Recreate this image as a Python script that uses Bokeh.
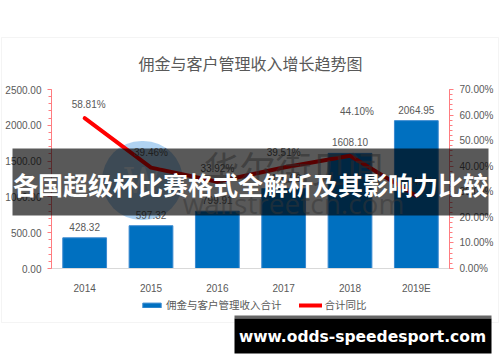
from bokeh.plotting import figure
from bokeh.models import (Range1d, FactorRange, LinearAxis, FixedTicker, NumeralTickFormatter,
                          ColumnDataSource, LabelSet, Label, BoxAnnotation, Legend, LegendItem)
from bokeh.core.properties import value
from bokeh.embed import file_html
from bokeh.resources import INLINE

# ---------------- data ----------------
years = ["2014", "2015", "2016", "2017", "2018", "2019E"]
revenue = [428.32, 597.32, 799.91, 1115.96, 1608.10, 2064.95]
yoy = [0.5881, 0.3946, 0.3392, 0.3951, 0.4410, 0.2841]
left_ticks = [0, 500, 1000, 1500, 2000, 2500]
right_ticks = [0.0, 0.1, 0.2, 0.3, 0.4, 0.5, 0.6, 0.7]
title_text = "佣金与客户管理收入增长趋势图"
bar_name = "佣金与客户管理收入合计"
line_name = "合计同比"
banner_text = "各国超级杯比赛格式全解析及其影响力比较"
site_text = "www.odds-speedesport.com"

# ---------------- layout / styles ----------------
W, H = 500, 362
PL, PR, PT, PB = 53, 451, 89, 268          # plot area in page pixels
GRAY = "#595959"
NUM = "Liberation Sans"
CJK = "Noto Sans CJK SC"
AXIS_RED = "#ff7c80"
lbl_dx = [4, 0, 0, 0, 7, 0]
lbl_dy = [14, 15, 13, 15, 44, 14]

n = len(years)
cat_px = (PR - PL) / n
pad = (W / cat_px - n) / 2
L_MAX = left_ticks[-1]
R_MAX = right_ticks[-1]
upp_l = L_MAX / (PB - PT)
upp_r = R_MAX / (PB - PT)

src = ColumnDataSource(dict(
    year=years, revenue=revenue, yoy=yoy,
    rev_txt=["%.2f" % v for v in revenue],
    yoy_txt=["%.2f%%" % (v * 100) for v in yoy],
    lx=lbl_dx, ly=lbl_dy,
))

p = figure(x_range=FactorRange(factors=years, range_padding=pad, range_padding_units="absolute"),
           y_range=Range1d(-(H - PB) * upp_l, L_MAX + PT * upp_l),
           width=W, height=H, output_backend="svg", toolbar_location=None,
           min_border=0, min_border_left=0, min_border_right=0,
           min_border_top=0, min_border_bottom=0)
p.title.visible = False
p.background_fill_color = "white"
p.border_fill_color = "white"
p.outline_line_color = None
p.xgrid.visible = False
p.ygrid.visible = False

p.extra_y_ranges = {"pct": Range1d(-(H - PB) * upp_r, R_MAX + PT * upp_r)}

lax = p.yaxis[0]
lax.ticker = FixedTicker(ticks=left_ticks, minor_ticks=list(range(0, L_MAX + 1, 100)))
lax.formatter = NumeralTickFormatter(format="0.00")
lax.fixed_location = 0
lax.bounds = (0, L_MAX)

rax = LinearAxis(y_range_name="pct",
                 ticker=FixedTicker(ticks=right_ticks, minor_ticks=[i / 50 for i in range(36)]),
                 formatter=NumeralTickFormatter(format="0.00%"),
                 fixed_location=n, bounds=(0, R_MAX))
p.add_layout(rax, "right")

for ax in (lax, rax):
    ax.axis_line_color = AXIS_RED
    ax.major_tick_line_color = AXIS_RED
    ax.minor_tick_line_color = AXIS_RED
    ax.major_tick_in = 0
    ax.major_tick_out = 4
    ax.minor_tick_in = 0
    ax.minor_tick_out = 3
    ax.major_label_text_font = NUM
    ax.major_label_text_font_size = "10px"
    ax.major_label_text_color = GRAY
lax.major_label_standoff = 6
rax.major_label_standoff = 6

xax = p.xaxis[0]
xax.fixed_location = 0
xax.bounds = (0, n)
xax.axis_line_color = "#d9d9d9"
xax.major_tick_line_color = None
xax.minor_tick_line_color = None
xax.major_label_standoff = 8
xax.major_label_text_font = NUM
xax.major_label_text_font_size = "10px"
xax.major_label_text_color = GRAY

# watermark circle (beneath the data marks)
def sx(X):
    return X

def sy(Y):
    return H - Y

p.add_layout(Label(x=sx(142), y=sy(180), x_units="screen", y_units="screen", text="W",
                   text_align="center", text_baseline="middle",
                   text_font="DejaVu Serif", text_font_size="36px",
                   text_color="#ffffff", text_alpha=0.6,
                   background_fill_color="#9cc8ef", background_fill_alpha=0.8,
                   border_radius=40, padding=(22, 19), level="underlay"))

bars = p.vbar(x="year", top="revenue", width=0.66, source=src,
              fill_color="#0070C0", line_color="#3b8ad0", line_width=1)
ln = p.line(x="year", y="yoy", source=src, y_range_name="pct",
            line_color="#FF0000", line_width=4, line_join="round", line_cap="round")

p.add_layout(LabelSet(x="year", y="revenue", text="rev_txt", source=src, y_offset=11,
                      text_align="center", text_baseline="middle", text_font=value(NUM),
                      text_font_size="10px", text_color=GRAY))
p.add_layout(LabelSet(x="year", y="yoy", text="yoy_txt", source=src, y_range_name="pct",
                      x_offset="lx", y_offset="ly",
                      text_align="center", text_baseline="middle", text_font=value(NUM),
                      text_font_size="10px", text_color=GRAY))

def box(l, r, t, b, **kw):
    return BoxAnnotation(left=sx(l), right=sx(r), top=sy(t), bottom=sy(b),
                         left_units="screen", right_units="screen",
                         top_units="screen", bottom_units="screen", **kw)

p.add_layout(box(1, 498, 37, 322, fill_alpha=0, line_color="#d9d9d9", line_width=1))

p.add_layout(Label(x=sx(250), y=sy(62), x_units="screen", y_units="screen", text=title_text,
                   text_align="center", text_baseline="middle", text_font=CJK,
                   text_font_size="16px", text_color=GRAY))

legend = Legend(items=[LegendItem(label=bar_name, renderers=[bars]),
                       LegendItem(label=line_name, renderers=[ln])],
                location=(sx(140), sy(312)), orientation="horizontal",
                padding=0, margin=0, spacing=17, label_standoff=3,
                glyph_width=23, glyph_height=6, label_height=12,
                label_text_font=CJK, label_text_font_size="10.5px",
                label_text_color=GRAY, border_line_color=None,
                background_fill_alpha=0)
p.add_layout(legend)

# watermark text
p.add_layout(Label(x=sx(293), y=sy(166), x_units="screen", y_units="screen", text="华尔街见闻",
                   text_align="center", text_baseline="middle", text_font=CJK,
                   text_font_size="36px", text_color="#7f7f7f", text_alpha=0.55))
p.add_layout(Label(x=sx(293), y=sy(202), x_units="screen", y_units="screen", text="wallstreetcn.com",
                   text_align="center", text_baseline="middle", text_font="Open Sans",
                   text_font_size="28px", text_color="#9a9a9a", text_alpha=0.5))

# banner overlay
p.add_layout(box(12, 488, 148, 215, fill_color="black", fill_alpha=0.65, line_alpha=0))
p.add_layout(Label(x=sx(250), y=sy(183), x_units="screen", y_units="screen", text=banner_text,
                   text_align="center", text_baseline="middle", text_font=CJK,
                   text_font_style="bold", text_font_size="25px", text_color="white"))

# site box
p.add_layout(box(234, 491, 315, 318, fill_color="#555555", fill_alpha=0.9, line_alpha=0))
p.add_layout(box(234, 491, 318, 353, fill_color="black", fill_alpha=1, line_alpha=0))
p.add_layout(Label(x=sx(362), y=sy(336), x_units="screen", y_units="screen", text=site_text,
                   text_align="center", text_baseline="middle", text_font="DejaVu Sans",
                   text_font_style="bold", text_font_size="15.5px", text_color="white"))

open("out.html", "w").write(file_html(p, INLINE))
